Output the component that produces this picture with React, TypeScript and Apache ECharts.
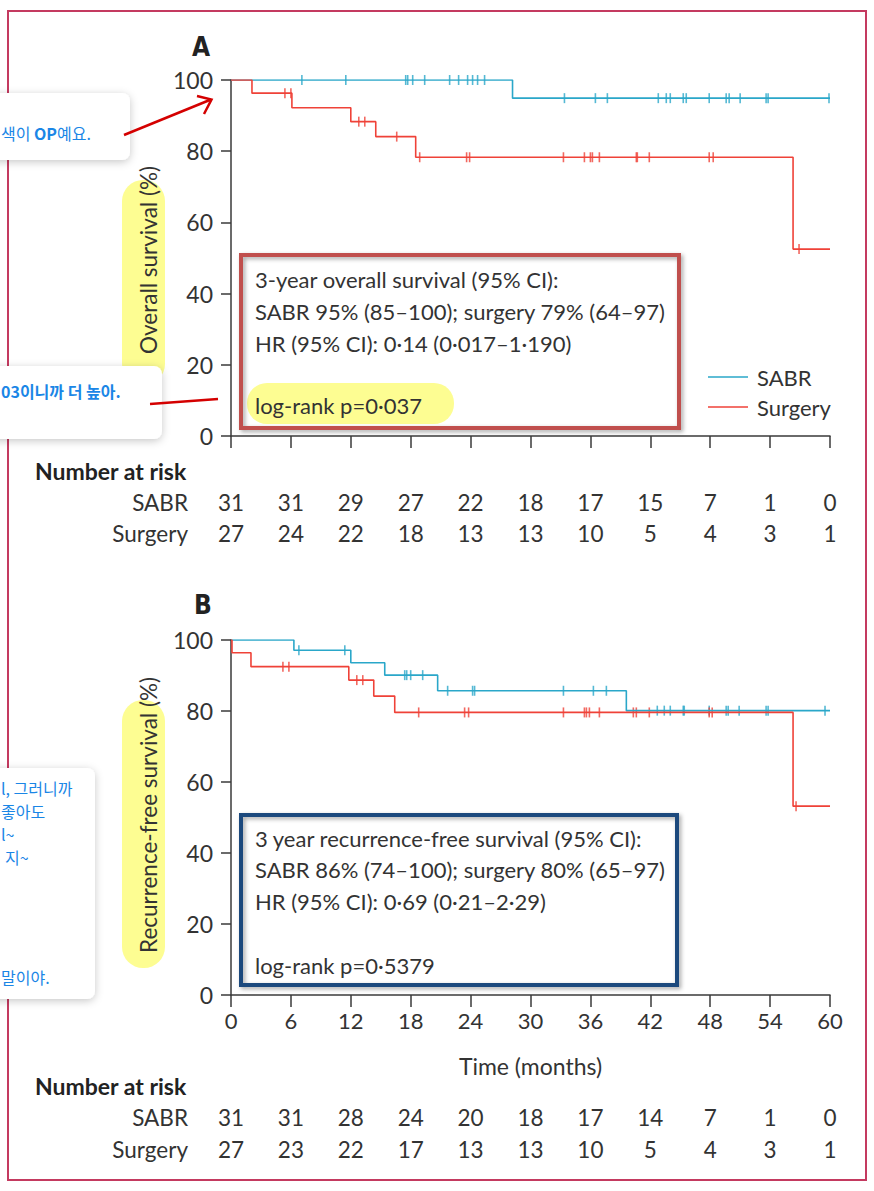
import React, { useEffect, useRef } from "react";
import * as echarts from "echarts";

// ---------- data ----------
const monthTicks = [0, 6, 12, 18, 24, 30, 36, 42, 48, 54, 60];

// Panel A: overall survival (Kaplan-Meier steps: [month, %])
const osSabr: [number, number][] = [[0, 100], [28.2, 94.9], [60, 94.9]];
const osSurgery: [number, number][] = [
  [0, 100], [2.1, 96.3], [6.1, 92.2], [12.0, 88.3], [14.5, 84.1], [18.5, 78.3], [56.3, 52.5], [60, 52.5],
];
const osSabrCensor: [number, number][] = [
  [7.1, 100], [11.5, 100], [17.5, 100], [17.7, 100], [18.2, 100], [19.4, 100], [21.9, 100], [22.8, 100],
  [23.7, 100], [24.2, 100], [24.7, 100], [25.4, 100],
  [33.4, 94.9], [36.5, 94.9], [37.7, 94.9], [42.8, 94.9], [43.6, 94.9], [44.0, 94.9], [45.3, 94.9],
  [45.6, 94.9], [47.9, 94.9], [49.6, 94.9], [49.9, 94.9], [51.0, 94.9], [53.6, 94.9], [53.8, 94.9], [59.9, 94.9],
];
const osSurgeryCensor: [number, number][] = [
  [5.4, 96.3], [6.0, 96.3], [12.8, 88.3], [13.4, 88.3], [16.6, 84.1],
  [18.9, 78.3], [23.6, 78.3], [23.9, 78.3], [33.3, 78.3], [35.4, 78.3], [36.0, 78.3], [36.2, 78.3],
  [36.9, 78.3], [40.6, 78.3], [40.7, 78.3], [41.9, 78.3], [47.9, 78.3], [48.3, 78.3], [56.9, 52.5],
];

// Panel B: recurrence-free survival
const rfsSabr: [number, number][] = [
  [0, 100], [6.3, 97.1], [12.0, 93.6], [15.4, 90.1], [20.7, 85.7], [39.6, 80.1], [60, 80.1],
];
const rfsSurgery: [number, number][] = [
  [0, 100], [0.1, 96.4], [2.0, 92.5], [11.8, 88.7], [14.3, 84.2], [16.4, 79.6], [56.3, 53.2], [60, 53.2],
];
const rfsSabrCensor: [number, number][] = [
  [6.8, 97.1], [11.4, 97.1], [17.4, 90.1], [17.6, 90.1], [18.0, 90.1], [19.2, 90.1],
  [21.7, 85.7], [24.2, 85.7], [24.4, 85.7], [33.3, 85.7], [36.3, 85.7], [37.6, 85.7],
  [42.7, 80.1], [43.4, 80.1], [44.0, 80.1], [45.3, 80.1], [45.4, 80.1], [47.9, 80.1], [49.6, 80.1],
  [49.8, 80.1], [50.9, 80.1], [53.6, 80.1], [53.8, 80.1], [59.5, 80.1],
];
const rfsSurgeryCensor: [number, number][] = [
  [5.2, 92.5], [5.8, 92.5], [12.6, 88.7], [13.2, 88.7],
  [18.8, 79.6], [23.4, 79.6], [23.8, 79.6], [33.3, 79.6], [35.4, 79.6], [35.6, 79.6], [35.9, 79.6],
  [36.9, 79.6], [40.3, 79.6], [40.6, 79.6], [41.9, 79.6], [47.9, 79.6], [48.2, 79.6], [56.6, 53.2],
];

// Number at risk
const riskA_Sabr = [31, 31, 29, 27, 22, 18, 17, 15, 7, 1, 0];
const riskA_Surgery = [27, 24, 22, 18, 13, 13, 10, 5, 4, 3, 1];
const riskB_Sabr = [31, 31, 28, 24, 20, 18, 17, 14, 7, 1, 0];
const riskB_Surgery = [27, 23, 22, 17, 13, 13, 10, 5, 4, 3, 1];

const boxA = [
  "3-year overall survival (95% CI):",
  "SABR 95% (85–100); surgery 79% (64–97)",
  "HR (95% CI): 0·14 (0·017–1·190)",
  "log-rank p=0·037",
];
const boxB = [
  "3 year recurrence-free survival (95% CI):",
  "SABR 86% (74–100); surgery 80% (65–97)",
  "HR (95% CI): 0·69 (0·21–2·29)",
  "log-rank p=0·5379",
];

// ---------- style ----------
const BLUE = "#2aa7c9";
const RED = "#ef4238";
const AXIS = "#3a3a3a";
const TXT = "#333333";
const FONT = "Lato, 'Open Sans', 'Noto Sans', sans-serif";
const KFONT = "'Noto Sans CJK KR', 'Noto Sans', sans-serif";
const NOTE = "#1a86e6";
const YELLOW = "#fdfd92";

function axisX(gridIndex: number, showLabel: boolean) {
  return {
    type: "value", gridIndex, min: 0, max: 60, interval: 6,
    axisLine: { show: true, onZero: false, lineStyle: { color: AXIS, width: 1.5 } },
    axisTick: { show: true, length: 12, lineStyle: { color: AXIS, width: 1.5 } },
    splitLine: { show: false },
    axisLabel: { show: showLabel, fontSize: 22, color: TXT, fontFamily: FONT, margin: 14 },
  };
}
function axisY(gridIndex: number) {
  return {
    type: "value", gridIndex, min: 0, max: 100, interval: 20,
    axisLine: { show: true, lineStyle: { color: AXIS, width: 1.5 } },
    axisTick: { show: true, length: 10, lineStyle: { color: AXIS, width: 1.5 } },
    splitLine: { show: false },
    axisLabel: { fontSize: 23, color: TXT, fontFamily: FONT, margin: 18 },
  };
}
function stepSeries(name: string, data: [number, number][], color: string, idx: number) {
  return {
    name, type: "line", step: "end", data, xAxisIndex: idx, yAxisIndex: idx,
    showSymbol: false, symbol: "none", silent: true,
    lineStyle: { color, width: 1.6 }, itemStyle: { color },
  };
}
function censorSeries(name: string, data: [number, number][], color: string, idx: number) {
  return {
    name, type: "scatter", data, xAxisIndex: idx, yAxisIndex: idx, silent: true,
    symbol: "rect", symbolSize: [1.6, 10], itemStyle: { color },
  };
}

function txt(x: number, y: number, text: string, extra: any = {}) {
  return {
    type: "text", x, y, silent: true, z: 10,
    style: { text, fill: TXT, font: `22px ${FONT}`, textAlign: "left", textVerticalAlign: "middle", ...extra },
  };
}

export default function App() {
  const ref = useRef<HTMLDivElement>(null);
  useEffect(() => {
    if (!ref.current) return;
    const chart = echarts.init(ref.current, undefined, { renderer: "svg" });
    chart.setOption({
      animation: false,
      backgroundColor: "#ffffff",
      grid: [
        { left: 231, top: 80, width: 599, height: 356 },
        { left: 231, top: 640, width: 599, height: 355 },
      ],
      xAxis: [axisX(0, false), axisX(1, true)],
      yAxis: [axisY(0), axisY(1)],
      legend: {
        data: ["SABR", "Surgery"], orient: "vertical", left: 703, top: 361,
        icon: "rect", itemWidth: 40, itemHeight: 1.5, itemGap: 8, selectedMode: false,
        textStyle: { fontSize: 22, color: TXT, fontFamily: FONT, padding: [0, 0, 0, 4] },
      },
      series: [
        stepSeries("SABR", osSabr, BLUE, 0),
        stepSeries("Surgery", osSurgery, RED, 0),
        censorSeries("SABR censored A", osSabrCensor, BLUE, 0),
        censorSeries("Surgery censored A", osSurgeryCensor, RED, 0),
        stepSeries("SABR", rfsSabr, BLUE, 1),
        stepSeries("Surgery", rfsSurgery, RED, 1),
        censorSeries("SABR censored B", rfsSabrCensor, BLUE, 1),
        censorSeries("Surgery censored B", rfsSurgeryCensor, RED, 1),
      ],
    });

    const px = (t: number) => chart.convertToPixel({ xAxisIndex: 0 }, t) as number;
    const g: any[] = [];

    // outer frame
    g.push({ type: "rect", shape: { x: 8, y: 11, width: 858, height: 1169 }, style: { fill: "none", stroke: "#c43a60", lineWidth: 2 }, z: 1, silent: true });

    // yellow highlights
    g.push({ type: "rect", shape: { x: 122, y: 180, width: 43, height: 205, r: 21 }, style: { fill: YELLOW }, z: 2, silent: true });
    g.push({ type: "rect", shape: { x: 122, y: 700, width: 43, height: 268, r: 21 }, style: { fill: YELLOW }, z: 2, silent: true });
    g.push({ type: "rect", shape: { x: 247, y: 383, width: 207, height: 41, r: 20 }, style: { fill: YELLOW }, z: 3, silent: true });

    // panel letters
    const letterFont = `bold 26px 'Liberation Sans Narrow', 'DejaVu Sans Condensed', ${FONT}`;
    g.push(txt(192, 47, "A", { font: letterFont, fill: "#222" }));
    g.push(txt(194, 605, "B", { font: letterFont, fill: "#222" }));

    // y titles
    g.push({ type: "text", x: 148, y: 260, rotation: Math.PI / 2, silent: true, z: 10,
      style: { text: "Overall survival (%)", fill: TXT, font: `22.5px ${FONT}`, textAlign: "center", textVerticalAlign: "middle" } });
    g.push({ type: "text", x: 148, y: 815, rotation: Math.PI / 2, silent: true, z: 10,
      style: { text: "Recurrence-free survival (%)", fill: TXT, font: `22.5px ${FONT}`, textAlign: "center", textVerticalAlign: "middle" } });

    // x title
    g.push(txt(px(30), 1066, "Time (months)", { textAlign: "center", font: `23px ${FONT}` }));

    // stat boxes
    const shadow = { shadowBlur: 4, shadowOffsetX: 2, shadowOffsetY: 2, shadowColor: "rgba(0,0,0,0.35)" };
    g.push({ type: "rect", shape: { x: 241, y: 255, width: 438, height: 173 }, style: { fill: "none", stroke: "#c0504d", lineWidth: 4, ...shadow }, z: 4, silent: true });
    g.push({ type: "rect", shape: { x: 241, y: 815, width: 436, height: 170 }, style: { fill: "none", stroke: "#1f497d", lineWidth: 4, ...shadow }, z: 4, silent: true });
    const yA = [279, 311, 343, 405];
    const yB = [838, 869, 901, 965];
    boxA.forEach((s, i) => g.push(txt(255, yA[i], s)));
    boxB.forEach((s, i) => g.push(txt(255, yB[i], s)));

    // number at risk tables
    const riskRows = [
      { head: 471, rows: [{ label: "SABR", y: 502, v: riskA_Sabr }, { label: "Surgery", y: 533, v: riskA_Surgery }] },
      { head: 1086, rows: [{ label: "SABR", y: 1117, v: riskB_Sabr }, { label: "Surgery", y: 1149, v: riskB_Surgery }] },
    ];
    riskRows.forEach((tb) => {
      g.push(txt(35, tb.head, "Number at risk", { font: `bold 23px ${FONT}`, fill: "#222" }));
      tb.rows.forEach((r) => {
        g.push(txt(188, r.y, r.label, { textAlign: "right", font: `22.5px ${FONT}` }));
        r.v.forEach((n, i) => g.push(txt(px(monthTicks[i]), r.y, String(n), { textAlign: "center", font: `22.5px ${FONT}` })));
      });
    });

    // annotation cards (cut off at the left edge of the page)
    const cardShadow = { shadowBlur: 8, shadowOffsetX: 0, shadowOffsetY: 2, shadowColor: "rgba(0,0,0,0.22)" };
    g.push({ type: "rect", shape: { x: -30, y: 93, width: 160, height: 67, r: 8 }, style: { fill: "#fff", ...cardShadow }, z: 5, silent: true });
    g.push({ type: "rect", shape: { x: -30, y: 366, width: 192, height: 73, r: 8 }, style: { fill: "#fff", ...cardShadow }, z: 5, silent: true });
    g.push({ type: "rect", shape: { x: -30, y: 768, width: 125, height: 231, r: 8 }, style: { fill: "#fff", ...cardShadow }, z: 5, silent: true });

    const note = (x: number, y: number, text: string, extra: any = {}) => ({
      type: "text", x, y, z: 6, silent: true,
      style: { text, fill: NOTE, font: `16px ${KFONT}`, textAlign: "left", textVerticalAlign: "middle", ...extra },
    });
    g.push(note(1, 133, "색이 {b|OP}예요.", { rich: { b: { fontWeight: "bold", fontSize: 16, fontFamily: KFONT, fill: NOTE } } }));
    g.push(note(1, 391, "03이니까 더 높아.", { font: `bold 16px ${KFONT}` }));
    g.push(note(1, 788, "l, 그러니까"));
    g.push(note(1, 811, "좋아도"));
    g.push(note(1, 834, "l~"));
    g.push(note(5, 857, "지~"));
    g.push(note(1, 977, "말이야."));

    // red arrow and pointer line
    g.push({ type: "line", shape: { x1: 124, y1: 135, x2: 211, y2: 99.5 }, style: { stroke: "#d40000", lineWidth: 2.5 }, z: 7, silent: true });
    g.push({ type: "polyline", shape: { points: [[197, 96], [211.5, 99.5], [204, 114]] }, style: { stroke: "#d40000", lineWidth: 2.5, fill: "none" }, z: 7, silent: true });
    g.push({ type: "line", shape: { x1: 150, y1: 404, x2: 218, y2: 399 }, style: { stroke: "#d40000", lineWidth: 2.5 }, z: 7, silent: true });

    chart.setOption({ graphic: g });
    return () => chart.dispose();
  }, []);
  return <div ref={ref} style={{ position: "absolute", left: 0, top: 0, width: 874, height: 1191 }} />;
}
